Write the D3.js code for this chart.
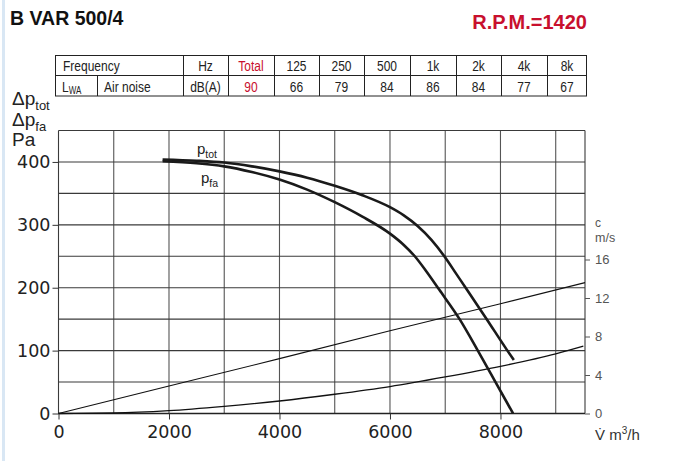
<!DOCTYPE html>
<html>
<head>
<meta charset="utf-8">
<script src="https://cdn.jsdelivr.net/npm/d3@7"></script>
<style>
body{margin:0;background:#fff;}
svg{display:block;}
</style>
</head>
<body>
<div id="chart"></div>
<script>
// sound table
var freqLabels=["125","250","500","1k","2k","4k","8k"];
var noiseValues=[66,79,84,86,84,77,67];
var noiseTotal=90;

// fan curves, flow in m3/h, pressure in Pa
var totFlow=[1884,2500,3000,3500,4000,4500,5000,5500,6000,6250,6500,6750,7000,7200,7400,7736,8110,8242];
var totPa=[404,402,399,393,385,375,362,347,328,315,298,276,248,222,196,152,102,85];
var faFlow=[1884,2500,3000,3500,4000,4500,5000,5500,6000,6250,6449,6650,6890,7260,7590,7910,8228];
var faPa=[401,398,393,384,372,356,336,313,286,268,250,227,197,150,100,50,0];

// air velocity lines, c in m/s
var velLineFlow=[0,2000,4000,6000,8000,9530];
var velLineC=[0,2.85,5.7,8.6,11.4,13.6];
var velCurveFlow=[0,1000,2000,3000,4000,5000,6000,7000,8000,9000,9500];
var velCurveC=[0,0.05,0.3,0.75,1.3,2.0,2.8,3.8,4.9,6.2,7.0];

// axis ticks
var xTicks=[0,2000,4000,6000,8000];
var yTicks=[0,100,200,300,400];
var cTicks=[0,4,8,12,16];

var W=676,H=461;
var svg=d3.select("#chart").append("svg").attr("width",W).attr("height",H);

var x=d3.scaleLinear().domain([0,9530]).range([58.5,585]);
var y=d3.scaleLinear().domain([0,450]).range([413.5,130.5]);
var yc=d3.scaleLinear().domain([0,16]).range([413.5,259.5]);

//light blue strip on the left
svg.append("rect").attr("x",2).attr("y",0).attr("width",3).attr("height",H).attr("fill","#d9e7f4");

//title
svg.append("text").attr("x",10).attr("y",25).attr("font-family","Liberation Sans, Arial, sans-serif")
	.attr("font-size",19.5).attr("font-weight","bold").attr("fill","#111").text("B VAR 500/4");
svg.append("text").attr("x",587).attr("y",29).attr("text-anchor","end").attr("font-family","Liberation Sans, Arial, sans-serif")
	.attr("font-size",20).attr("font-weight","bold").attr("fill","#c8102e").text("R.P.M.=1420");

/////////////////////table
var tbl=svg.append("g");
var colX=[55,183,228,274,319,364,410,456,501,547,587];
var rowY=[55,75.5,96];
tbl.append("rect").attr("x",55.5).attr("y",55.5).attr("width",531).attr("height",40.5)
	.attr("fill","none").attr("stroke","#222").attr("stroke-width",1);
tbl.append("line").attr("x1",55.5).attr("x2",586.5).attr("y1",rowY[1]).attr("y2",rowY[1]).attr("stroke","#222");
for(var i=1;i<colX.length-1;i++){
	tbl.append("line").attr("x1",colX[i]+0.5).attr("x2",colX[i]+0.5).attr("y1",55.5).attr("y2",96)
		.attr("stroke","#222");
}
tbl.append("line").attr("x1",97.5).attr("x2",97.5).attr("y1",rowY[1]).attr("y2",96).attr("stroke","#222");

//narrow text helper
function narrowText(g,tx,ty,txt,anchor,color,size){
	var t=g.append("g").attr("transform","translate("+tx+","+ty+") scale(0.8,1)")
		.append("text").attr("text-anchor",anchor).attr("font-family","Liberation Sans, Arial, sans-serif")
		.attr("font-size",size||15).attr("fill",color||"#222");
	t.text(txt);
	return t;
}
narrowText(tbl,63,71,"Frequency","start");
narrowText(tbl,(183+228)/2,71,"Hz","middle");
narrowText(tbl,(228+274)/2,71,"Total","middle","#c8102e");
narrowText(tbl,(183+228)/2,92,"dB(A)","middle");
narrowText(tbl,(228+274)/2,92,noiseTotal,"middle","#c8102e");
narrowText(tbl,104,92,"Air noise","start");
var lwa=narrowText(tbl,62,92,"L","start");
lwa.append("tspan").attr("font-size",10).attr("dy",2).text("WA");
freqLabels.forEach(function(f,i){
	var cx=(colX[i+3]+colX[i+4])/2;
	narrowText(tbl,cx,71,f,"middle");
	narrowText(tbl,cx,92,noiseValues[i],"middle");
});

/////////////////////grid
var grid=svg.append("g").attr("stroke","#3a3a3a").attr("stroke-width",1.1);
d3.range(1000,9001,1000).forEach(function(v){
	grid.append("line").attr("x1",x(v)).attr("x2",x(v)).attr("y1",y(450)).attr("y2",y(0)).attr("stroke","#555");
});
d3.range(50,451,50).forEach(function(v){
	grid.append("line").attr("x1",x(0)).attr("x2",585).attr("y1",y(v)).attr("y2",y(v));
});
//frame left & right
grid.append("line").attr("x1",x(0)).attr("x2",x(0)).attr("y1",y(450)).attr("y2",y(0));
grid.append("line").attr("x1",585).attr("x2",585).attr("y1",y(450)).attr("y2",y(0));
grid.append("line").attr("x1",x(0)).attr("x2",585).attr("y1",y(0)).attr("y2",y(0)).attr("stroke","#222").attr("stroke-width",1.4);

/////////////////////axes
var xAxis=d3.axisBottom(x).tickValues(xTicks).tickSize(6).tickPadding(6).tickFormat(d3.format("d"));
var gx=svg.append("g").attr("transform","translate(0,"+y(0)+")").call(xAxis);
gx.select(".domain").remove();
gx.selectAll("text").attr("font-family","DejaVu Sans, sans-serif").attr("font-size",17.5).attr("fill","#222");
gx.selectAll("line").attr("stroke","#333");

var yAxis=d3.axisLeft(y).tickValues(yTicks).tickSize(6).tickPadding(2);
var gy=svg.append("g").attr("transform","translate("+x(0)+",0)").call(yAxis);
gy.select(".domain").remove();
gy.selectAll("text").attr("font-family","DejaVu Sans, sans-serif").attr("font-size",17.5).attr("fill","#222");
gy.selectAll("line").attr("stroke","#333");

var cAxis=d3.axisRight(yc).tickValues(cTicks).tickSize(5).tickPadding(5);
var gc=svg.append("g").attr("transform","translate(585,0)").call(cAxis);
gc.select(".domain").remove();
gc.selectAll("text").attr("font-family","Liberation Sans, Arial, sans-serif").attr("font-size",13).attr("fill","#555");
gc.selectAll("line").attr("stroke","#555");

svg.append("text").attr("x",595).attr("y",227).attr("font-family","Liberation Sans, Arial, sans-serif")
	.attr("font-size",12).attr("fill","#555").text("c");
svg.append("text").attr("x",595).attr("y",242).attr("font-family","Liberation Sans, Arial, sans-serif")
	.attr("font-size",12.5).attr("fill","#555").text("m/s");
var vl=svg.append("text").attr("x",595).attr("y",440).attr("font-family","Liberation Sans, Arial, sans-serif")
	.attr("font-size",15).attr("fill","#333");
vl.append("tspan").text("V\u0307 m");
vl.append("tspan").attr("font-size",10).attr("dy",-6).text("3");
vl.append("tspan").attr("dy",6).text("/h");

//left axis title
function subLabel(tx,ty,main,sub,size,subSize){
	var t=svg.append("text").attr("x",tx).attr("y",ty).attr("font-family","Liberation Sans, Arial, sans-serif")
		.attr("font-size",size).attr("fill","#222");
	t.append("tspan").text(main);
	t.append("tspan").attr("font-size",subSize).attr("dy",size*0.25).text(sub);
	return t;
}
subLabel(12,105,"\u0394p","tot",19,13);
subLabel(12,126,"\u0394p","fa",19,13);
svg.append("text").attr("x",12).attr("y",146).attr("font-family","Liberation Sans, Arial, sans-serif")
	.attr("font-size",19).attr("fill","#222").text("Pa");

/////////////////////lines
var velLine=d3.line().x(function(d){return x(d[0]);}).y(function(d){return yc(d[1]);});
var velCurve=d3.line().x(function(d){return x(d[0]);}).y(function(d){return yc(d[1]);}).curve(d3.curveMonotoneX);
svg.append("path").datum(d3.zip(velLineFlow,velLineC)).attr("d",velLine)
	.attr("fill","none").attr("stroke","#111").attr("stroke-width",1.1);
svg.append("path").datum(d3.zip(velCurveFlow,velCurveC)).attr("d",velCurve)
	.attr("fill","none").attr("stroke","#111").attr("stroke-width",1.3);

var pLine=d3.line().x(function(d){return x(d[0]);}).y(function(d){return y(d[1]);}).curve(d3.curveMonotoneX);
svg.append("path").datum(d3.zip(totFlow,totPa)).attr("d",pLine)
	.attr("fill","none").attr("stroke","#1a1a1a").attr("stroke-width",2.6);
svg.append("path").datum(d3.zip(faFlow,faPa)).attr("d",pLine)
	.attr("fill","none").attr("stroke","#1a1a1a").attr("stroke-width",2.6);

//curve labels
subLabel(197,154,"p","tot",15,10.5);
subLabel(201,183,"p","fa",15,10.5);
</script>
</body>
</html>
